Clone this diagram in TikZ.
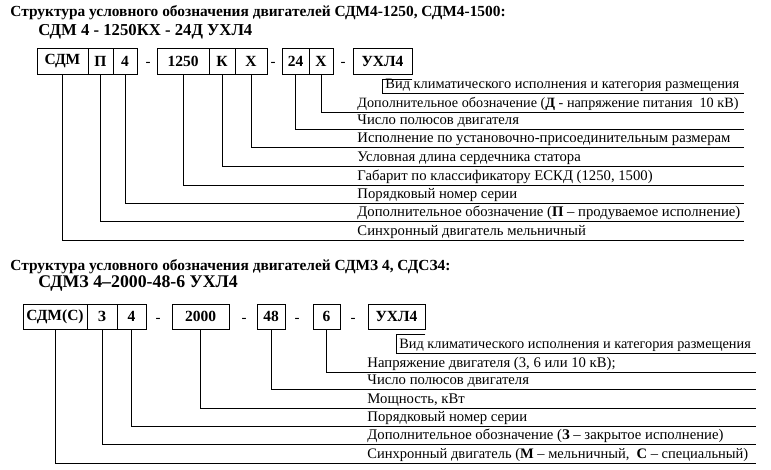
\documentclass[tikz,border=0pt]{standalone}
\usepackage{fontspec}
\setmainfont{Liberation Serif}
\begin{document}
\begin{tikzpicture}[x=1pt,y=-1pt,line width=.9pt]
  \useasboundingbox (0,0) rectangle (771,470);

  % upper scheme: СДМ4-1250, СДМ4-1500
  \node[anchor=west, inner sep=0pt, font=\bfseries\fontsize{15.4}{17}\selectfont] (title1) at (10,13)
    {Структура условного обозначения двигателей СДМ4-1250, СДМ4-1500:};
  \node[anchor=west, inner sep=0pt, font=\bfseries\fontsize{16.7}{20}\selectfont] (code1) at (38,32)
    {СДМ 4 - 1250КХ - 24Д УХЛ4};

  \begin{scope}[every node/.style={draw, minimum height=26pt, inner sep=0pt, font=\bfseries\fontsize{15.5}{17}\selectfont}]
    \node[minimum width=51pt] (sdm)  at (62.5,61) {СДМ};
    \node[minimum width=25pt] (p)    at (100.5,61) {П};
    \node[minimum width=24pt] (ser1) at (125,61) {4};
    \node[minimum width=52pt] (gab)  at (183,61) {1250};
    \node[minimum width=26pt] (k)    at (222,61) {К};
    \node[minimum width=32pt] (x1)   at (251,61) {Х};
    \node[minimum width=27pt] (pol1) at (295.5,61) {24};
    \node[minimum width=24pt] (x2)   at (321,61) {Х};
    \node[minimum width=59pt] (uhl1) at (382.5,61) {УХЛ4};
  \end{scope}

  \begin{scope}[every node/.style={anchor=base, font=\fontsize{15}{17}\selectfont}]
    \node (d1) at (148,67) {-};
    \node (d2) at (273,67) {-};
    \node (d3) at (343,67) {-};
  \end{scope}

  \begin{scope}[every node/.style={anchor=base west, inner sep=0pt, font=\fontsize{14.7}{16}\selectfont}]
    \node[font=\fontsize{14.4}{16}\selectfont] (l1) at (385,88.5) {Вид климатического исполнения и категория размещения};
    \node[font=\fontsize{14.2}{16}\selectfont] (l2) at (357,107.5) {Дополнительное обозначение (\textbf{Д} - напряжение питания~~10~кВ)};
    \node (l3) at (357,124.5) {Число полюсов двигателя};
    \node (l4) at (357,142.5) {Исполнение по установочно-присоединительным размерам};
    \node (l5) at (357,161.5) {Условная длина сердечника статора};
    \node (l6) at (357,180.5) {Габарит по классификатору ЕСКД (1250, 1500)};
    \node (l7) at (357,198.5) {Порядковый номер серии};
    \node (l8) at (357,216.5) {Дополнительное обозначение (\textbf{П} – продуваемое исполнение)};
    \node (l9) at (357,235.5) {Синхронный двигатель мельничный};
  \end{scope}

  \coordinate (e1) at (744,93);
  \coordinate (e2) at (744,112);
  \coordinate (e3) at (744,129);
  \coordinate (e4) at (744,147);
  \coordinate (e5) at (744,166);
  \coordinate (e6) at (744,185);
  \coordinate (e7) at (744,203);
  \coordinate (e8) at (744,221);
  \coordinate (e9) at (744,240);

  \draw ([yshift=-5pt]uhl1.south east) -- ([yshift=-5pt]uhl1.south) |- (e1);
  \draw (x2.south) |- (e2);
  \draw (pol1.south) |- (e3);
  \draw (x1.south) |- (e4);
  \draw (k.south) |- (e5);
  \draw (gab.south) |- (e6);
  \draw (ser1.south) |- (e7);
  \draw (p.south) |- (e8);
  \draw (sdm.south) |- (e9);

  % lower scheme: СДМЗ 4, СДСЗ4
  \node[anchor=west, inner sep=0pt, font=\bfseries\fontsize{15.4}{17}\selectfont] (title2) at (10,267)
    {Структура условного обозначения двигателей СДМЗ 4, СДСЗ4:};
  \node[anchor=west, inner sep=0pt, font=\bfseries\fontsize{17.8}{20}\selectfont] (code2) at (38,283)
    {СДМЗ 4–2000-48-6 УХЛ4};

  \begin{scope}[every node/.style={draw, minimum height=25pt, inner sep=0pt, font=\bfseries\fontsize{15.5}{17}\selectfont}]
    \node[minimum width=64pt] (sdmc) at (55,316.5) {СДМ(С)};
    \node[minimum width=30pt] (z)    at (102,316.5) {З};
    \node[minimum width=29pt] (ser2) at (131.5,316.5) {4};
    \node[minimum width=57pt] (pow)  at (200.5,316.5) {2000};
    \node[minimum width=28pt] (pol2) at (271,316.5) {48};
    \node[minimum width=27pt] (volt) at (326.5,316.5) {6};
    \node[minimum width=57pt] (uhl2) at (396.5,316.5) {УХЛ4};
  \end{scope}

  \begin{scope}[every node/.style={anchor=base, font=\fontsize{15}{17}\selectfont}]
    \node (d4) at (158,322.5) {-};
    \node (d5) at (244,322.5) {-};
    \node (d6) at (297,322.5) {-};
    \node (d7) at (353,322.5) {-};
  \end{scope}

  \begin{scope}[every node/.style={anchor=base west, inner sep=0pt, font=\fontsize{14.7}{16}\selectfont}]
    \node[font=\fontsize{14.3}{16}\selectfont] (m1) at (399,348.5) {Вид климатического исполнения и категория размещения};
    \node (m2) at (367,367.5) {Напряжение двигателя (3, 6 или 10 кВ);};
    \node (m3) at (367,384.5) {Число полюсов двигателя};
    \node (m4) at (367,403.5) {Мощность, кВт};
    \node (m5) at (367,421.5) {Порядковый номер серии};
    \node (m6) at (367,439.5) {Дополнительное обозначение (\textbf{З} – закрытое исполнение)};
    \node[font=\fontsize{14.5}{16}\selectfont] (m7) at (367,458.5) {Синхронный двигатель (\textbf{М} – мельничный,~ \textbf{С} – специальный)};
  \end{scope}

  \coordinate (f1) at (756,353);
  \coordinate (f2) at (756,372);
  \coordinate (f3) at (756,389);
  \coordinate (f4) at (756,408);
  \coordinate (f5) at (756,426);
  \coordinate (f6) at (756,444);
  \coordinate (f7) at (756,463);

  \draw ([yshift=-5pt]uhl2.south east) -- ([yshift=-5pt]uhl2.south) |- (f1);
  \draw (volt.south) |- (f2);
  \draw (pol2.south) |- (f3);
  \draw (pow.south) |- (f4);
  \draw (ser2.south) |- (f5);
  \draw (z.south) |- (f6);
  \draw (sdmc.south) |- (f7);

\end{tikzpicture}
\end{document}
